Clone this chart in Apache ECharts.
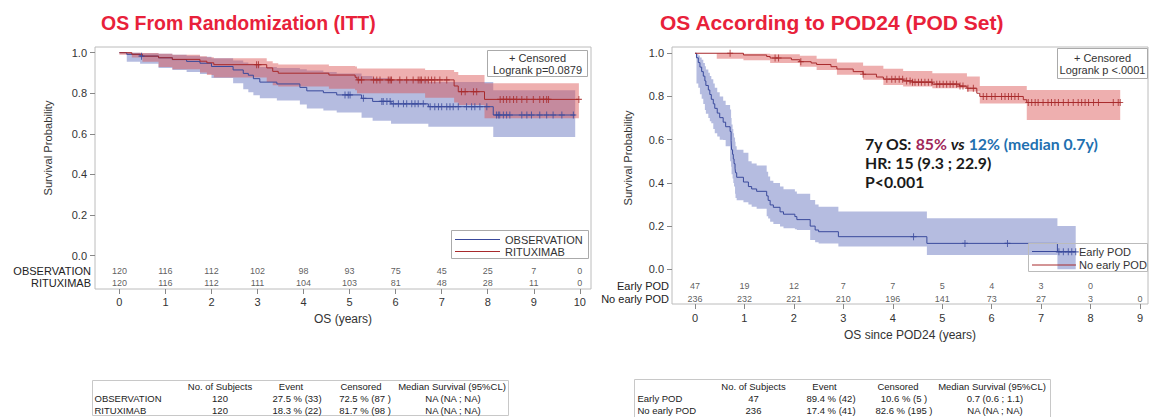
<!DOCTYPE html>
<html><head><meta charset="utf-8">
<script src="https://cdn.jsdelivr.net/npm/echarts@6/dist/echarts.min.js"></script>
<style>html,body{margin:0;padding:0;background:#fff}#c{width:1150px;height:417px}</style>
</head><body><div id="c"></div>
<script>
// ---------------- DATA ----------------
// Left panel: OS from randomization (ITT)
const leftTicks = [0,1,2,3,4,5,6,7,8,9,10];
const yTicks = [0,0.2,0.4,0.6,0.8,1.0];
const obsCurve = [[0,1.0],[0.16,0.992],[0.45,0.983],[0.85,0.975],[1.15,0.966],[1.46,0.957],[1.75,0.948],[2.0,0.932],[2.47,0.915],[2.69,0.898],[2.8,0.889],[2.91,0.872],[3.05,0.855],[3.42,0.846],[3.92,0.829],[4.07,0.812],[4.43,0.803],[4.72,0.792],[5.26,0.775],[5.5,0.760],[5.9,0.748],[6.71,0.734],[8.12,0.693]];
const obsEnd = 9.9;
const obsBand = [[0,1.0,1.0],[0.16,0.955,1.0],[0.45,0.945,0.997],[0.85,0.925,0.995],[1.15,0.915,0.99],[1.46,0.905,0.985],[1.75,0.895,0.98],[2.0,0.875,0.972],[2.47,0.850,0.962],[2.69,0.820,0.952],[2.8,0.805,0.945],[2.91,0.790,0.938],[3.05,0.775,0.930],[3.42,0.765,0.925],[3.92,0.745,0.918],[4.07,0.725,0.912],[4.43,0.715,0.905],[4.72,0.705,0.898],[5.26,0.680,0.885],[5.5,0.665,0.875],[5.9,0.650,0.865],[6.71,0.635,0.855],[8.12,0.585,0.815]];
const obsCens = [0.48,4.90,4.97,5.01,5.30,5.70,5.73,5.81,5.88,5.95,6.06,6.17,6.24,6.35,6.42,6.49,6.60,6.75,6.85,6.93,7.00,7.11,7.18,7.25,7.36,7.54,7.65,7.72,7.83,7.98,8.19,8.23,8.26,8.34,8.41,8.48,8.74,8.85,8.95,9.13,9.28,9.42,9.61,9.86];

const ritCurve = [[0,1.0],[0.27,0.992],[0.5,0.983],[0.85,0.975],[1.15,0.967],[1.75,0.958],[1.9,0.950],[2.05,0.941],[3.2,0.925],[3.33,0.908],[3.45,0.899],[4.55,0.890],[5.12,0.879],[5.16,0.866],[7.27,0.836],[7.36,0.808],[7.93,0.770]];
const ritEnd = 9.98;
const ritBand = [[0,0.99,1.0],[0.27,0.976,1.0],[0.5,0.955,0.998],[0.85,0.930,0.995],[1.15,0.918,0.99],[1.75,0.902,0.982],[1.9,0.890,0.978],[2.05,0.878,0.972],[3.2,0.855,0.958],[3.33,0.840,0.948],[3.45,0.833,0.942],[4.55,0.822,0.935],[5.12,0.815,0.932],[5.16,0.800,0.922],[6.64,0.778,0.915],[7.27,0.755,0.905],[7.36,0.742,0.890],[7.93,0.677,0.849]];
const ritCens = [2.98,3.02,5.19,5.26,5.52,5.59,5.66,5.84,5.88,5.91,6.09,6.24,6.38,6.49,6.53,6.56,6.64,6.71,6.78,6.85,6.96,7.11,7.43,7.51,7.69,7.76,8.27,8.34,8.41,8.48,8.56,8.63,8.74,8.85,8.99,9.13,9.21,9.28,9.32,9.98];

const obsRisk = [120,116,112,102,98,93,75,45,25,7,0];
const ritRisk = [120,116,112,111,104,103,81,48,28,11,0];

// Right panel: OS according to POD24
const rightTicks = [0,1,2,3,4,5,6,7,8,9];
const earlyCurve = [[0,1.0],[0.03,0.979],[0.067,0.957],[0.10,0.936],[0.135,0.915],[0.168,0.894],[0.20,0.872],[0.22,0.851],[0.27,0.830],[0.30,0.809],[0.33,0.787],[0.37,0.766],[0.40,0.745],[0.45,0.723],[0.50,0.702],[0.57,0.681],[0.62,0.660],[0.71,0.638],[0.73,0.596],[0.74,0.553],[0.76,0.532],[0.775,0.511],[0.79,0.489],[0.81,0.468],[0.82,0.447],[0.843,0.426],[0.98,0.404],[1.08,0.383],[1.146,0.372],[1.247,0.361],[1.45,0.340],[1.48,0.319],[1.52,0.298],[1.585,0.287],[1.72,0.266],[1.79,0.255],[2.02,0.244],[2.06,0.230],[2.33,0.200],[2.43,0.182],[2.50,0.174],[2.90,0.151],[4.69,0.120],[7.33,0.081]];
const earlyEnd = 7.7;
const earlyBand = [[0,1.0,1.0],[0.03,0.86,0.997],[0.067,0.84,0.99],[0.10,0.81,0.98],[0.135,0.79,0.97],[0.168,0.765,0.955],[0.20,0.737,0.94],[0.22,0.72,0.925],[0.27,0.70,0.91],[0.30,0.685,0.895],[0.33,0.676,0.88],[0.37,0.65,0.86],[0.40,0.63,0.84],[0.45,0.615,0.82],[0.50,0.60,0.80],[0.57,0.598,0.78],[0.62,0.57,0.76],[0.71,0.50,0.74],[0.73,0.475,0.70],[0.74,0.44,0.67],[0.76,0.42,0.65],[0.775,0.40,0.63],[0.79,0.383,0.61],[0.81,0.35,0.59],[0.82,0.33,0.57],[0.843,0.32,0.553],[0.98,0.31,0.54],[1.08,0.30,0.50],[1.146,0.29,0.49],[1.247,0.28,0.48],[1.45,0.245,0.452],[1.48,0.235,0.43],[1.52,0.22,0.41],[1.585,0.21,0.40],[1.72,0.198,0.383],[1.79,0.19,0.37],[2.02,0.185,0.36],[2.06,0.182,0.35],[2.33,0.136,0.321],[2.43,0.125,0.30],[2.50,0.12,0.29],[2.90,0.105,0.267],[4.69,0.066,0.236],[7.33,0.0,0.20]];
const earlyCens = [4.42,5.46,6.32,7.36,7.45,7.55,7.62,7.70];

const noEarlyCurve = [[0,1.0],[0.98,0.992],[1.45,0.985],[1.52,0.978],[1.95,0.970],[2.12,0.961],[2.35,0.955],[2.46,0.948],[2.75,0.938],[2.87,0.927],[3.2,0.915],[3.40,0.903],[3.67,0.890],[3.81,0.880],[4.21,0.872],[4.40,0.866],[4.80,0.857],[5.35,0.848],[5.5,0.838],[5.70,0.815],[5.76,0.800],[6.64,0.785],[6.71,0.772]];
const noEarlyEnd = 8.6;
const noEarlyBand = [[0.44,0.975,1.0],[0.98,0.968,0.998],[1.52,0.955,0.995],[2.12,0.938,0.988],[2.46,0.922,0.975],[2.87,0.900,0.957],[3.40,0.877,0.942],[3.81,0.853,0.928],[4.21,0.846,0.918],[4.80,0.838,0.908],[5.5,0.823,0.893],[5.76,0.768,0.848],[6.71,0.691,0.830]];
const noEarlyCens = [0.71,1.62,1.69,2.14,3.40,3.88,3.98,4.05,4.13,4.20,4.28,4.35,4.40,4.45,4.52,4.58,4.65,4.72,4.79,4.89,4.95,5.02,5.09,5.16,5.22,5.29,5.36,5.42,5.52,5.63,5.83,5.90,6.00,6.07,6.20,6.27,6.34,6.40,6.47,6.54,6.74,6.81,6.88,6.94,7.04,7.14,7.21,7.28,7.35,7.45,7.55,7.65,7.75,7.82,7.89,7.96,8.06,8.16,8.46,8.56,8.60];

const earlyRisk = [47,19,12,7,7,5,4,3,0];
const noEarlyRisk = [236,232,221,210,196,141,73,27,3,0];

// ---------------- STYLE / LAYOUT ----------------
const FONT = '"Liberation Sans", Arial, Helvetica, sans-serif';
const NOTE_FONT = 'Lato, "Open Sans", sans-serif';
const BLUE = '#3a4a9c', RED = '#a82a2c';
const BLUE_BAND = 'rgba(100,115,190,0.48)', RED_BAND = 'rgba(218,78,78,0.45)';
const TITLE_RED = '#E8213A';
const ROW_L1 = -0.076, ROW_L2 = -0.134, ROW_R1 = -0.076, ROW_R2 = -0.138;

function survAt(curve, t){ let s = curve[0][1]; for (const p of curve){ if (p[0] <= t) s = p[1]; } return s; }
function stepLine(curve, end, color, idx){
  return {type:'line', xAxisIndex:idx, yAxisIndex:idx, step:'end', symbol:'none', silent:true,
    data: curve.concat([[end, curve[curve.length-1][1]]]),
    lineStyle:{color:color, width:1}, z:4, animation:false};
}
function bandSeries(band, end, color, idx){
  return {type:'custom', coordinateSystem:'cartesian2d', xAxisIndex:idx, yAxisIndex:idx, silent:true, z:2,
    data:[[band[0][0], band[0][1]]],
    renderItem: function(params, api){
      const pts = [];
      for (let i=0;i<band.length;i++){
        const t1 = i+1<band.length ? band[i+1][0] : end;
        pts.push(api.coord([band[i][0], band[i][2]]), api.coord([t1, band[i][2]]));
      }
      for (let i=band.length-1;i>=0;i--){
        const t1 = i+1<band.length ? band[i+1][0] : end;
        pts.push(api.coord([t1, band[i][1]]), api.coord([band[i][0], band[i][1]]));
      }
      return {type:'polygon', shape:{points:pts}, style:{fill:color, stroke:null}};
    }};
}
function censSeries(times, curve, color, idx){
  return {type:'scatter', xAxisIndex:idx, yAxisIndex:idx, silent:true, z:5,
    symbol:'path://M5,0L5,10M0,5L10,5', symbolSize:[6,7],
    itemStyle:{color:'transparent', borderColor:color, borderWidth:1.1},
    data: times.map(t => [t, survAt(curve, t)])};
}
function riskSeries(ticks, counts, rowY, idx){
  return {type:'scatter', xAxisIndex:idx, yAxisIndex:idx, silent:true, symbolSize:0, z:6,
    label:{show:true, position:'inside', fontFamily:FONT, fontSize:9, color:'#333', formatter: p => String(p.value[2])},
    data: counts.map((n,i) => [ticks[i], rowY, n])};
}
function xAxisCfg(idx, min, max, ticks, name, gap, margin){
  return {gridIndex:idx, type:'value', min:min, max:max, splitLine:{show:false},
    axisLine:{show:false, onZero:false},
    axisTick:{show:true, customValues:ticks, length:5, lineStyle:{color:'#888'}},
    axisLabel:{customValues:ticks, fontFamily:FONT, fontSize:11, color:'#333', margin:margin},
    name:name, nameLocation:'middle', nameGap:gap,
    nameTextStyle:{fontFamily:FONT, fontSize:12, color:'#333'}};
}
function yAxisCfg(idx, min, max){
  return {gridIndex:idx, type:'value', min:min, max:max, splitLine:{show:false},
    axisLine:{show:false, onZero:false},
    axisTick:{show:true, customValues:yTicks, length:5, lineStyle:{color:'#888'}},
    axisLabel:{customValues:yTicks, fontFamily:FONT, fontSize:11, color:'#333', margin:8, formatter: v => Number(v).toFixed(1)}};
}
function txt(x, y, text, opt){
  return Object.assign({type:'text', x:x, y:y, z:50, silent:true,
    style:Object.assign({text:text, fontFamily:FONT, fontSize:11, fill:'#333', align:'left', verticalAlign:'middle'}, opt||{})});
}
function rect(x, y, w, h, fill, stroke){
  return {type:'rect', z:40, silent:true, shape:{x:x, y:y, width:w, height:h}, style:{fill:fill, stroke:stroke, lineWidth:1}};
}
function seg(x1, y1, x2, y2, color){
  return {type:'line', z:45, silent:true, shape:{x1:x1, y1:y1, x2:x2, y2:y2}, style:{stroke:color, lineWidth:1}};
}

const graphics = [
  Object.assign(txt(101, 23, 'OS From Randomization (ITT)', {fontSize:20.5, fontWeight:'bold', fill:TITLE_RED}), {scaleX:0.95}),
  txt(660, 22, 'OS According to POD24 (POD Set)', {fontSize:21, fontWeight:'bold', fill:TITLE_RED}),
  Object.assign(txt(47.5, 148, 'Survival Probability', {align:'center', fontSize:11.2}), {rotation:Math.PI/2}),
  Object.assign(txt(628, 158, 'Survival Probability', {align:'center', fontSize:11.2}), {rotation:Math.PI/2}),
  // at-risk row labels
  txt(91, 271, 'OBSERVATION', {align:'right', fontSize:11, fill:'#222'}),
  txt(91, 283, 'RITUXIMAB', {align:'right', fontSize:11, fill:'#222'}),
  txt(669, 285.7, 'Early POD', {align:'right', fontSize:11, fill:'#222'}),
  txt(669, 299, 'No early POD', {align:'right', fontSize:11, fill:'#222'}),
  // left inset legends
  rect(487.5, 50.5, 100, 26, '#fff', '#aaa'),
  txt(537.5, 57.5, '+ Censored', {align:'center', fontSize:11}),
  txt(537.5, 69.5, 'Logrank p=0.0879', {align:'center', fontSize:11}),
  rect(451.5, 230.5, 137, 28, '#fff', '#aaa'),
  seg(455, 239.5, 500, 239.5, BLUE), seg(455, 251.5, 500, 251.5, RED),
  txt(505, 239.5, 'OBSERVATION', {fontSize:11}),
  txt(505, 251.5, 'RITUXIMAB', {fontSize:11}),
  // right inset legends
  rect(1057.5, 48.5, 90, 30, '#fff', '#aaa'),
  txt(1102.5, 57.5, '+ Censored', {align:'center', fontSize:11}),
  txt(1102.5, 70, 'Logrank p <.0001', {align:'center', fontSize:11}),
  rect(1028.5, 243.5, 119, 28, 'transparent', '#bbb'),
  seg(1032, 251.5, 1076, 251.5, BLUE), seg(1032, 265, 1076, 265, RED),
  txt(1079, 251.5, 'Early POD', {fontSize:11}),
  txt(1079, 265, 'No early POD', {fontSize:11}),
  // annotation
  {type:'text', x:865, y:143, z:50, silent:true, style:{
    text:'{a|7y OS: }{r|85%}{a| }{i|vs}{a| }{b|12% (median 0.7y)}', verticalAlign:'middle',
    rich:{
      a:{fontFamily:NOTE_FONT, fontWeight:'bold', fontSize:15.8, fill:'#1a1a1a'},
      r:{fontFamily:NOTE_FONT, fontWeight:'bold', fontSize:15.8, fill:'#a0285a'},
      i:{fontFamily:NOTE_FONT, fontWeight:'bold', fontStyle:'italic', fontSize:15.8, fill:'#1a1a1a'},
      b:{fontFamily:NOTE_FONT, fontWeight:'bold', fontSize:15.8, fill:'#2270b0'}
    }}},
  txt(865, 162, 'HR: 15 (9.3 ; 22.9)', {fontFamily:NOTE_FONT, fontWeight:'bold', fontSize:15.8, fill:'#1a1a1a'}),
  txt(865, 181, 'P<0.001', {fontFamily:NOTE_FONT, fontWeight:'bold', fontSize:15.8, fill:'#1a1a1a'}),
  // bottom tables
  rect(92.5, 380.5, 416, 35, '#fff', '#c8c8c8'),
  txt(220, 386, 'No. of Subjects', {align:'center', fontSize:9.5, fill:'#222'}),
  txt(291, 386, 'Event', {align:'center', fontSize:9.5, fill:'#222'}),
  txt(361, 386, 'Censored', {align:'center', fontSize:9.5, fill:'#222'}),
  txt(452, 386, 'Median Survival (95%CL)', {align:'center', fontSize:9.5, fill:'#222'}),
  txt(94.5, 398.5, 'OBSERVATION', {fontSize:9.5, fill:'#222'}),
  txt(220, 398.5, '120', {align:'center', fontSize:9.5, fill:'#222'}),
  txt(297, 398.5, '27.5 % (33)', {align:'center', fontSize:9.5, fill:'#222'}),
  txt(365, 398.5, '72.5 % (87 )', {align:'center', fontSize:9.5, fill:'#222'}),
  txt(453, 398.5, 'NA (NA ; NA)', {align:'center', fontSize:9.5, fill:'#222'}),
  txt(94.5, 410.5, 'RITUXIMAB', {fontSize:9.5, fill:'#222'}),
  txt(220, 410.5, '120', {align:'center', fontSize:9.5, fill:'#222'}),
  txt(297, 410.5, '18.3 % (22)', {align:'center', fontSize:9.5, fill:'#222'}),
  txt(365, 410.5, '81.7 % (98 )', {align:'center', fontSize:9.5, fill:'#222'}),
  txt(453, 410.5, 'NA (NA ; NA)', {align:'center', fontSize:9.5, fill:'#222'}),
  rect(634.5, 379.5, 416, 40, '#fff', '#c8c8c8'),
  txt(753.5, 386, 'No. of Subjects', {align:'center', fontSize:9.5, fill:'#222'}),
  txt(824.5, 386, 'Event', {align:'center', fontSize:9.5, fill:'#222'}),
  txt(898, 386, 'Censored', {align:'center', fontSize:9.5, fill:'#222'}),
  txt(992, 386, 'Median Survival (95%CL)', {align:'center', fontSize:9.5, fill:'#222'}),
  txt(637.5, 398.5, 'Early POD', {fontSize:9.5, fill:'#222'}),
  txt(753.5, 398.5, '47', {align:'center', fontSize:9.5, fill:'#222'}),
  txt(831, 398.5, '89.4 % (42)', {align:'center', fontSize:9.5, fill:'#222'}),
  txt(904, 398.5, '10.6 % (5 )', {align:'center', fontSize:9.5, fill:'#222'}),
  txt(995, 398.5, '0.7 (0.6 ; 1.1)', {align:'center', fontSize:9.5, fill:'#222'}),
  txt(637.5, 410.5, 'No early POD', {fontSize:9.5, fill:'#222'}),
  txt(753.5, 410.5, '236', {align:'center', fontSize:9.5, fill:'#222'}),
  txt(831, 410.5, '17.4 % (41)', {align:'center', fontSize:9.5, fill:'#222'}),
  txt(904, 410.5, '82.6 % (195 )', {align:'center', fontSize:9.5, fill:'#222'}),
  txt(995, 410.5, 'NA (NA ; NA)', {align:'center', fontSize:9.5, fill:'#222'})
];

const option = {
  animation:false,
  backgroundColor:'#fff',
  grid:[
    {left:95, top:47, width:496, height:242, show:true, borderColor:'#bcbcbc', borderWidth:1, backgroundColor:'#fff'},
    {left:672, top:47, width:476, height:257, show:true, borderColor:'#bcbcbc', borderWidth:1, backgroundColor:'#fff'}
  ],
  xAxis:[
    xAxisCfg(0, -0.530, 10.243, leftTicks, 'OS (years)', 24, 7),
    xAxisCfg(1, -0.465, 9.162, rightTicks, 'OS since POD24 (years)', 25, 8)
  ],
  yAxis:[ yAxisCfg(0, -0.164, 1.028), yAxisCfg(1, -0.1606, 1.029) ],
  series:[
    bandSeries(obsBand, obsEnd, BLUE_BAND, 0),
    bandSeries(ritBand, ritEnd, RED_BAND, 0),
    stepLine(obsCurve, obsEnd, BLUE, 0),
    stepLine(ritCurve, ritEnd, RED, 0),
    censSeries(obsCens, obsCurve, BLUE, 0),
    censSeries(ritCens, ritCurve, RED, 0),
    riskSeries(leftTicks, obsRisk, ROW_L1, 0),
    riskSeries(leftTicks, ritRisk, ROW_L2, 0),
    bandSeries(earlyBand, earlyEnd, BLUE_BAND, 1),
    bandSeries(noEarlyBand, noEarlyEnd, RED_BAND, 1),
    stepLine(earlyCurve, earlyEnd, BLUE, 1),
    stepLine(noEarlyCurve, noEarlyEnd, RED, 1),
    censSeries(earlyCens, earlyCurve, BLUE, 1),
    censSeries(noEarlyCens, noEarlyCurve, RED, 1),
    riskSeries(rightTicks.slice(0, earlyRisk.length), earlyRisk, ROW_R1, 1),
    riskSeries(rightTicks, noEarlyRisk, ROW_R2, 1)
  ],
  graphic: graphics
};
const chart = echarts.init(document.getElementById('c'), null, {renderer:'svg'});
chart.setOption(option);
</script></body></html>
